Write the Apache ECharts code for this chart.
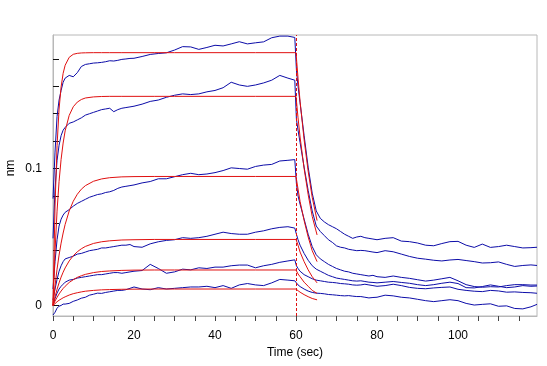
<!DOCTYPE html>
<html><head><meta charset="utf-8">
<script src="https://cdn.jsdelivr.net/npm/echarts@6/dist/echarts.min.js"></script>
<style>html,body{margin:0;padding:0;background:#fff}#c{width:547px;height:366px}</style>
</head><body><div id="c"></div>
<script>
// ---- data ----
const blueTime = [0,0.5,1,1.5,2,2.5,3,4,5,6,7,8,9,10,11,12,13,14,15,16,17,18,19,20,22,24,26,28,30,32,34,36,38,40,42,44,46,48,50,52,54,56,58,59.7,
  60.1,60.5,61,62,63,64,65,66,67,68,69,70,71,72,73,74,75,76,77,78,79,80,82,84,86,88,90,92,94,96,98,100,102,104,106,108,110,112,114,116,118,119.5];

const blue1 = [0.078,0.112,0.138,0.150,0.157,0.163,0.166,
  0.168,0.167,0.170,0.1745,0.176,0.1765,0.177,0.1772,0.1775,0.178,0.1787,0.1785,0.179,0.1797,0.180,0.1804,0.1805,
  0.1818,0.1833,0.184,0.1845,0.1865,0.189,0.1888,0.187,0.1884,0.190,0.1895,0.191,0.1926,0.191,0.1918,0.1925,0.1955,0.1967,0.1967,0.1957,
  0.172,0.160,
  0.148,0.124,0.101,0.082,0.069,0.0636,0.061,0.059,0.0575,0.056,0.054,0.052,0.0505,0.049,0.050,0.0505,0.0495,0.049,0.0485,0.048,
  0.049,0.0495,0.047,0.0466,0.0456,0.044,0.0436,0.0452,0.0466,0.0468,0.0440,0.0424,0.0448,0.0424,0.0430,0.0440,0.0430,0.0420,0.0422,0.0425];

const blue2 = [0.049,0.085,0.106,0.117,0.124,0.128,0.130,
  0.133,0.134,0.1355,0.137,0.139,0.140,0.141,0.142,0.143,0.1435,0.144,0.1415,0.143,0.144,0.1445,0.145,0.1455,
  0.147,0.149,0.150,0.152,0.1535,0.1545,0.154,0.1545,0.156,0.157,0.159,0.163,0.161,0.160,0.161,0.1625,0.1645,0.168,0.166,0.1645,
  0.136,0.128,
  0.119,0.101,0.084,0.069,0.058,0.054,0.051,0.048,0.046,0.0435,0.0425,0.042,0.041,0.0405,0.040,0.0402,0.040,0.0395,0.039,0.0386,
  0.0400,0.0392,0.0375,0.0358,0.0345,0.0338,0.0330,0.0325,0.0332,0.0336,0.0328,0.0320,0.0310,0.0312,0.0318,0.0300,0.0285,0.0292,0.0296,0.0292];

const blue3 = [0.012,0.032,0.048,0.058,0.063,0.066,0.068,
  0.070,0.0725,0.0745,0.076,0.0775,0.079,0.080,0.081,0.0815,0.0825,0.083,0.084,0.0855,0.0865,0.087,0.0875,0.088,
  0.0895,0.0905,0.0925,0.0925,0.094,0.0955,0.0965,0.0955,0.096,0.097,0.0985,0.1005,0.1,0.0995,0.1015,0.1025,0.1030,0.1055,0.106,0.1065,
  0.089,0.080,
  0.074,0.063,0.052,0.043,0.037,0.034,0.032,0.030,0.0285,0.027,0.026,0.025,0.0245,0.0235,0.023,0.0225,0.022,0.0215,0.022,0.021,
  0.0205,0.0215,0.0205,0.0198,0.0188,0.0178,0.0185,0.0195,0.0205,0.0180,0.0152,0.0138,0.0133,0.0137,0.0135,0.0145,0.0152,0.0152,0.0149,0.0149];

const blue4 = [0.004,0.012,0.019,0.025,0.029,0.032,0.034,
  0.035,0.036,0.0375,0.038,0.039,0.040,0.0405,0.041,0.042,0.042,0.0425,0.043,0.0435,0.044,0.044,0.0445,0.043,
  0.0425,0.045,0.0465,0.0475,0.048,0.0495,0.049,0.0495,0.0505,0.052,0.0535,0.0525,0.052,0.052,0.0535,0.0545,0.056,0.057,0.0575,0.0565,
  0.052,0.048,
  0.044,0.038,0.033,0.029,0.0265,0.025,0.0235,0.022,0.021,0.020,0.0195,0.019,0.0185,0.018,0.0178,0.018,0.0175,0.017,0.0168,0.0165,
  0.017,0.0175,0.0168,0.0162,0.0152,0.0145,0.0152,0.0162,0.0170,0.0160,0.0130,0.0128,0.0138,0.0150,0.0140,0.0130,0.0135,0.0145,0.0140,0.0142];

const blue5 = [0.000,0.005,0.009,0.012,0.014,0.0155,0.017,
  0.0185,0.019,0.020,0.0205,0.021,0.0215,0.022,0.0225,0.0225,0.023,0.0235,0.024,0.024,0.0235,0.024,0.0245,0.025,
  0.0255,0.030,0.027,0.0235,0.0245,0.0265,0.026,0.0275,0.027,0.028,0.028,0.029,0.0295,0.0295,0.0275,0.029,0.030,0.0315,0.0325,0.0333,
  0.029,0.027,
  0.025,0.0225,0.021,0.0195,0.0185,0.018,0.0175,0.017,0.0168,0.0165,0.016,0.0158,0.0155,0.015,0.0148,0.015,0.0155,0.015,0.0145,0.014,
  0.0145,0.0155,0.0145,0.0132,0.0125,0.0122,0.0128,0.0132,0.0135,0.0118,0.0110,0.0104,0.0101,0.0110,0.0106,0.0097,0.0099,0.0095,0.0093,0.0089];

const blue6 = [-0.007,-0.005,-0.002,-0.0005,0.000,0.001,0.001,
  0.0015,0.003,0.004,0.0053,0.006,0.0075,0.0082,0.009,0.0088,0.0095,0.010,0.0105,0.011,0.011,0.0115,0.0125,0.0135,
  0.012,0.0115,0.013,0.012,0.0125,0.013,0.0135,0.0135,0.014,0.013,0.0145,0.0125,0.015,0.016,0.015,0.0145,0.0165,0.019,0.0185,0.018,
  0.0165,0.015,
  0.0138,0.012,0.0105,0.0095,0.009,0.0088,0.0085,0.008,0.0078,0.0075,0.0072,0.007,0.0072,0.0068,0.0065,0.0065,0.006,0.0055,0.0058,0.006,
  0.0075,0.007,0.006,0.0055,0.0045,0.0035,0.0028,0.0035,0.0042,0.0035,0.0015,0.0003,0.0008,0.0012,-0.0006,-0.0003,-0.0022,-0.0025,-0.0010,0.0008];

const redTime = [0,0.5,1,1.5,2,2.5,3,4,5,6,7,8,10,12,14,17,20,25,30,40,50,60,60.5,61,62,63,64,65.2];
const red1 = [0,0.0726,0.1167,0.1434,0.1596,0.1695,0.1754,0.1812,0.1834,0.1841,0.1844,0.1845,0.1846,0.1846,0.1846,0.1846,0.1846,0.1846,0.1846,0.1846,0.1846,0.1846,0.166,0.149,0.121,0.098,0.079,0.062];
const red2 = [0,0.0396,0.0689,0.0906,0.1067,0.1186,0.1275,0.1388,0.1451,0.1485,0.1504,0.1515,0.1523,0.1526,0.1527,0.1527,0.1527,0.1527,0.1527,0.1527,0.1527,0.1527,0.137,0.123,0.100,0.081,0.065,0.0515];
const red3 = [0,0.0143,0.0265,0.0368,0.0455,0.0529,0.0592,0.0690,0.0761,0.0812,0.0849,0.0875,0.0907,0.0924,0.0933,0.0939,0.0941,0.0942,0.0942,0.0942,0.0942,0.0942,0.085,0.076,0.062,0.050,0.040,0.032];
const red4 = [0,0.0063,0.0118,0.0165,0.0207,0.0243,0.0274,0.0325,0.0363,0.0392,0.0414,0.0431,0.0453,0.0465,0.0472,0.0478,0.0480,0.0482,0.0482,0.0482,0.0482,0.0482,0.044,0.039,0.032,0.026,0.021,0.0165];
const red5 = [0,0.0032,0.0059,0.0084,0.0105,0.0124,0.0140,0.0168,0.0188,0.0205,0.0217,0.0227,0.0240,0.0248,0.0252,0.0256,0.0258,0.0259,0.0259,0.0259,0.0259,0.0259,0.023,0.021,0.017,0.014,0.011,0.0088];
const red6 = [0,0.0013,0.0027,0.0038,0.0047,0.0056,0.0063,0.0076,0.0086,0.0093,0.0099,0.0104,0.0110,0.0114,0.0116,0.0118,0.0119,0.0120,0.0120,0.0120,0.0120,0.0120,0.0108,0.0097,0.0079,0.0064,0.0051,0.0041];

const stepTime = 60;
const xTickStep = 5;
const xLabels = [0,20,40,60,80,100];
const yTicks = [0,0.02,0.04,0.06,0.08,0.1,0.12,0.14,0.16,0.18];
const yLabels = [0,0.1];
const xName = 'Time (sec)';
const yName = 'nm';

// ---- chart ----
const FONT = 'Liberation Sans, Arial, sans-serif';
const BLUE = '#0c0ca8';
const RED = '#e01010';
const pair = (t, v) => t.map((x, i) => [x, v[i]]);
const blues = [blue1, blue2, blue3, blue4, blue5, blue6];
const reds = [red1, red2, red3, red4, red5, red6];

const series = [];
blues.forEach((b) => series.push({
  type: 'line', data: pair(blueTime, b), showSymbol: false, symbol: 'none',
  lineStyle: { color: BLUE, width: 1 }, z: 2, silent: true
}));
reds.forEach((r, i) => series.push({
  type: 'line', data: pair(redTime, r), showSymbol: false, symbol: 'none',
  lineStyle: { color: RED, width: 1 }, z: 3, silent: true,
  markLine: i === 0 ? {
    silent: true, symbol: ['none', 'none'], label: { show: false },
    lineStyle: { color: RED, type: [3, 2], width: 1 },
    data: [{ xAxis: stepTime }]
  } : undefined
}));

const chart = echarts.init(document.getElementById('c'), null, { renderer: 'canvas' });
chart.setOption({
  animation: false,
  backgroundColor: '#fff',
  textStyle: { fontFamily: FONT },
  grid: { left: 53, top: 35, right: 10, bottom: 50, show: true, borderColor: '#b8b8b8', borderWidth: 1 },
  xAxis: {
    type: 'value', min: 0, max: 119.5, interval: xTickStep,
    name: xName, nameLocation: 'middle', nameGap: 29,
    nameTextStyle: { color: '#000', fontSize: 12, fontFamily: FONT },
    axisLine: { show: true, onZero: false, lineStyle: { color: '#b8b8b8', width: 1 } },
    splitLine: { show: false },
    axisTick: { show: true, length: 5, lineStyle: { color: '#444', width: 1 } },
    axisLabel: { color: '#000', fontSize: 12, fontFamily: FONT, margin: 14, showMaxLabel: false,
      formatter: v => (xLabels.indexOf(v) >= 0 ? String(v) : '') }
  },
  yAxis: {
    type: 'value', min: -0.0077, max: 0.1975,
    axisLine: { show: true, onZero: false, lineStyle: { color: '#b8b8b8', width: 1 } },
    splitLine: { show: false },
    axisTick: { show: true, inside: true, length: 6, customValues: yTicks, lineStyle: { color: '#111' } },
    axisLabel: { customValues: yLabels, margin: 11, color: '#000', fontSize: 12, fontFamily: FONT,
      formatter: v => (v === 0 ? '0' : String(v)) }
  },
  graphic: [{
    type: 'text', x: 11, y: 168, rotation: Math.PI / 2,
    style: { text: yName, fill: '#000', fontSize: 12, fontFamily: FONT, textAlign: 'center', textVerticalAlign: 'middle' }
  }],
  series: series
});
</script>
</body></html>
